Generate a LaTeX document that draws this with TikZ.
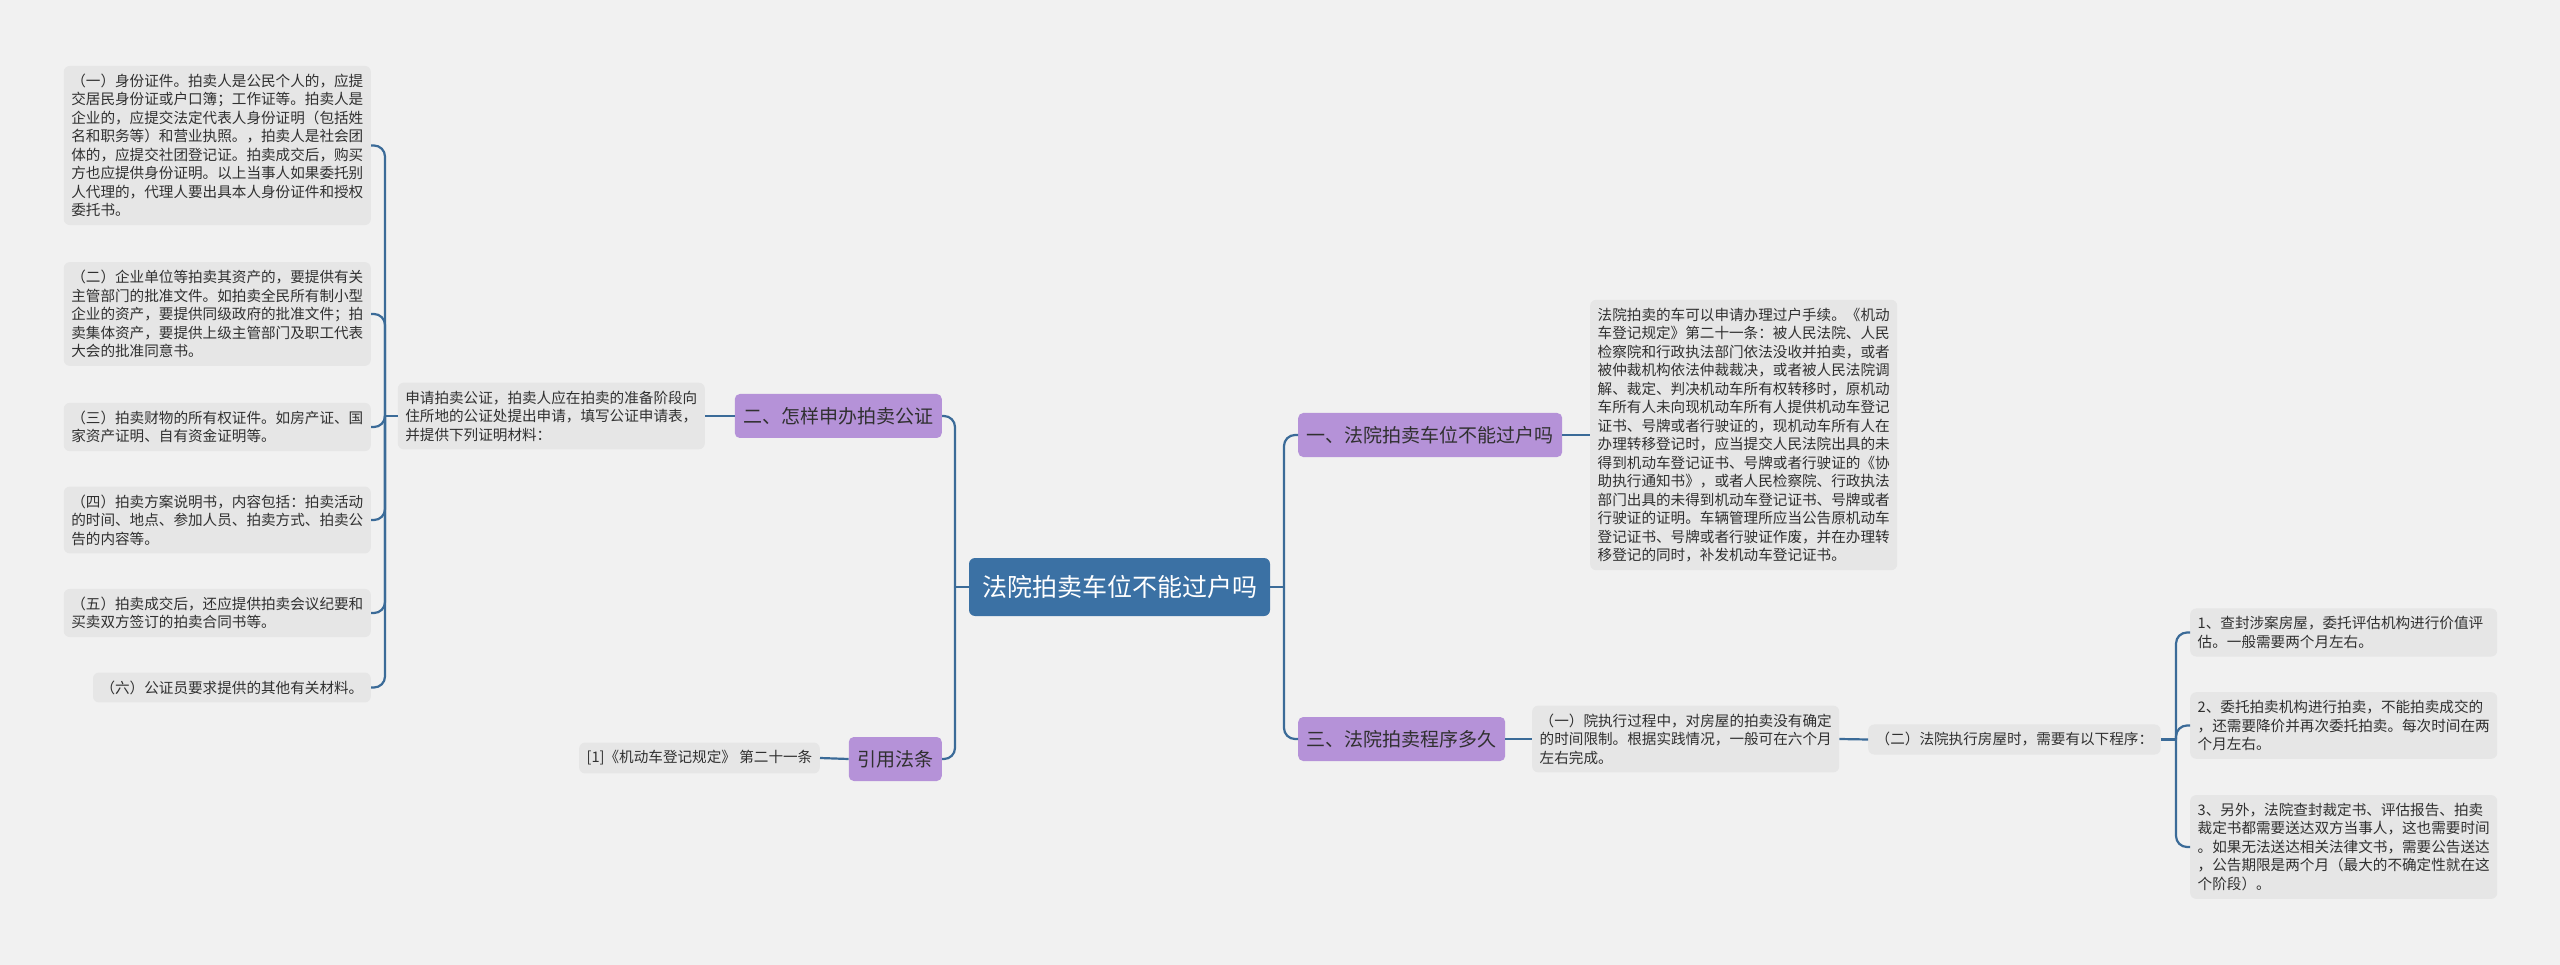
\documentclass[tikz,border=0pt]{standalone}
\usepackage{fontspec}
\setmainfont{Noto Sans CJK SC}
\definecolor{bgc}{HTML}{F1F1F1}
\definecolor{leafc}{HTML}{E6E6E6}
\definecolor{txtc}{HTML}{303030}
\definecolor{rootc}{HTML}{3B71A4}
\definecolor{purp}{HTML}{B592D8}
\definecolor{linec}{HTML}{3B6B98}
\begin{document}
\begin{tikzpicture}[x=1pt,y=-1pt,
  leaf/.style={fill=leafc, rounded corners=6pt, inner xsep=7.5pt, inner ysep=8pt, align=left, text=txtc, font=\fontsize{14.6pt}{18.5pt}\selectfont},
  leafw/.style={leaf, text width=292pt},
  topic/.style={fill=purp, rounded corners=5pt, inner xsep=8.5pt, minimum height=44pt, text=txtc, font=\fontsize{19pt}{22pt}\selectfont},
  rootn/.style={fill=rootc, rounded corners=6pt, inner xsep=13pt, minimum height=58pt, text=white, font=\fontsize{25pt}{28pt}\selectfont},
  conn/.style={draw=linec, line width=2.2pt},
  curvedconn/.style={conn, rounded corners=11pt}]
\fill[bgc] (0,0) rectangle (2560,965);
\useasboundingbox (0,0) rectangle (2560,965);

% root
\node[rootn] (root) at (1119.5,587) {法院拍卖车位不能过户吗};

% right side
\node[topic, anchor=west] (t1) at (1298,435) {一、法院拍卖车位不能过户吗};
\node[topic, anchor=west] (t3) at (1298,739) {三、法院拍卖程序多久};
\node[leafw, anchor=west] (t1a) at (1590,435) {法院拍卖的车可以申请办理过户手续。《机动\\车登记规定》第二十一条：被人民法院、人民\\检察院和行政执法部门依法没收并拍卖，或者\\被仲裁机构依法仲裁裁决，或者被人民法院调\\解、裁定、判决机动车所有权转移时，原机动\\车所有人未向现机动车所有人提供机动车登记\\证书、号牌或者行驶证的，现机动车所有人在\\办理转移登记时，应当提交人民法院出具的未\\得到机动车登记证书、号牌或者行驶证的《协\\助执行通知书》，或者人民检察院、行政执法\\部门出具的未得到机动车登记证书、号牌或者\\行驶证的证明。车辆管理所应当公告原机动车\\登记证书、号牌或者行驶证作废，并在办理转\\移登记的同时，补发机动车登记证书。};
\node[leafw, anchor=west] (t3a) at (1532,739) {（一）院执行过程中，对房屋的拍卖没有确定\\的时间限制。根据实践情况，一般可在六个月\\左右完成。};
\node[leaf, anchor=west] (t3b) at (1868,739.5) {（二）法院执行房屋时，需要有以下程序：};
\node[leafw, anchor=west] (s1) at (2190,632.5) {1、查封涉案房屋，委托评估机构进行价值评\\估。一般需要两个月左右。};
\node[leafw, anchor=west] (s2) at (2190,725.5) {2、委托拍卖机构进行拍卖，不能拍卖成交的\\，还需要降价并再次委托拍卖。每次时间在两\\个月左右。};
\node[leafw, anchor=west] (s3) at (2190,847) {3、另外，法院查封裁定书、评估报告、拍卖\\裁定书都需要送达双方当事人，这也需要时间\\。如果无法送达相关法律文书，需要公告送达\\，公告期限是两个月（最大的不确定性就在这\\个阶段）。};

% left side
\node[topic, anchor=east] (t2) at (942,416) {二、怎样申办拍卖公证};
\node[topic, anchor=east] (t4) at (942,759) {引用法条};
\node[leaf, anchor=east] (t4a) at (820,758) {[1]《机动车登记规定》 第二十一条};
\node[leafw, anchor=east] (t2a) at (705,416) {申请拍卖公证，拍卖人应在拍卖的准备阶段向\\住所地的公证处提出申请，填写公证申请表，\\并提供下列证明材料：};
\node[leafw, anchor=east] (m1) at (371,145.5) {（一）身份证件。拍卖人是公民个人的，应提\\交居民身份证或户口簿；工作证等。拍卖人是\\企业的，应提交法定代表人身份证明（包括姓\\名和职务等）和营业执照。，拍卖人是社会团\\体的，应提交社团登记证。拍卖成交后，购买\\方也应提供身份证明。以上当事人如果委托别\\人代理的，代理人要出具本人身份证件和授权\\委托书。};
\node[leafw, anchor=east] (m2) at (371,314) {（二）企业单位等拍卖其资产的，要提供有关\\主管部门的批准文件。如拍卖全民所有制小型\\企业的资产，要提供同级政府的批准文件；拍\\卖集体资产，要提供上级主管部门及职工代表\\大会的批准同意书。};
\node[leafw, anchor=east] (m3) at (371,427) {（三）拍卖财物的所有权证件。如房产证、国\\家资产证明、自有资金证明等。};
\node[leafw, anchor=east] (m4) at (371,520) {（四）拍卖方案说明书，内容包括：拍卖活动\\的时间、地点、参加人员、拍卖方式、拍卖公\\告的内容等。};
\node[leafw, anchor=east] (m5) at (371,613) {（五）拍卖成交后，还应提供拍卖会议纪要和\\买卖双方签订的拍卖合同书等。};
\node[leaf, anchor=east] (m6) at (371,687.5) {（六）公证员要求提供的其他有关材料。};

% junctions
\coordinate (jR) at (1284,587);
\coordinate (jL) at (955,587);
\coordinate (jM) at (385,416);
\coordinate (jS) at (2176,739.5);

% connectors
\draw[conn] (root.east) -- (jR);
\draw[curvedconn] (jR) |- (t1.west);
\draw[curvedconn] (jR) |- (t3.west);
\draw[conn] (root.west) -- (jL);
\draw[curvedconn] (jL) |- (t2.east);
\draw[curvedconn] (jL) |- (t4.east);
\draw[conn] (t1.east) -- (t1a.west);
\draw[conn] (t3.east) -- (t3a.west);
\draw[conn] (t3a.east) -- (t3b.west);
\draw[conn] (t3b.east) -- (jS);
\draw[curvedconn] (jS) |- (s1.west);
\draw[curvedconn] (jS) |- (s2.west);
\draw[curvedconn] (jS) |- (s3.west);
\draw[conn] (t2.west) -- (t2a.east);
\draw[conn] (t4.west) -- (t4a.east);
\draw[conn] (t2a.west) -- (jM);
\draw[curvedconn] (jM) |- (m1.east);
\draw[curvedconn] (jM) |- (m2.east);
\draw[curvedconn] (jM) |- (m3.east);
\draw[curvedconn] (jM) |- (m4.east);
\draw[curvedconn] (jM) |- (m5.east);
\draw[curvedconn] (jM) |- (m6.east);
\end{tikzpicture}
\end{document}
